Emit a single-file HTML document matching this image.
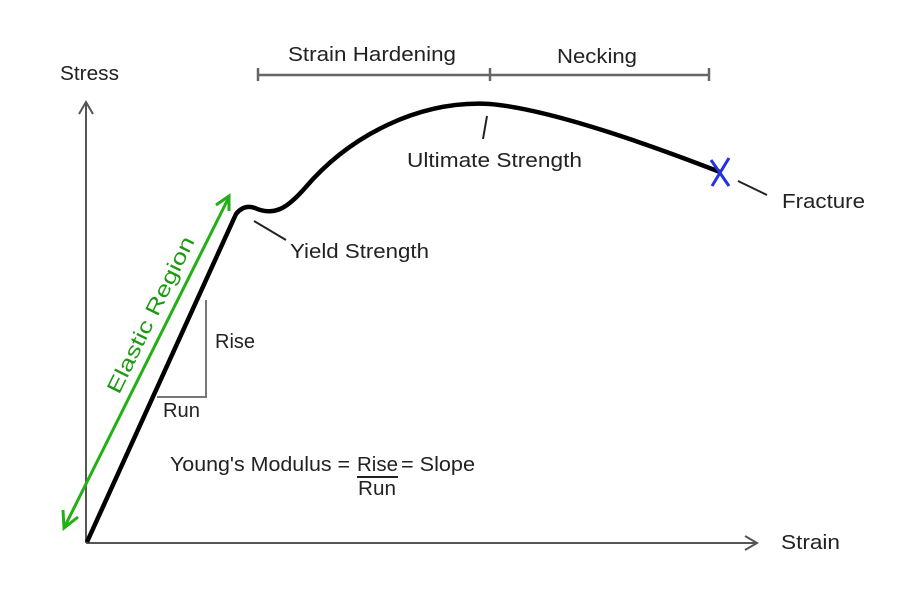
<!DOCTYPE html>
<html><head><meta charset="utf-8"><style>
body{margin:0;background:#fff;}
svg{display:block}
text{font-family:"Liberation Sans",sans-serif;font-size:20px;fill:#222;}
</style></head><body>
<svg width="900" height="600" viewBox="0 0 900 600">
<g stroke="#555" stroke-width="2" fill="none">
<line x1="86" y1="102" x2="86" y2="543"/>
<polyline points="79,114 86,102 93,114"/>
<line x1="86" y1="543" x2="757" y2="543"/>
<polyline points="745,536 757,543 745,550"/>
</g>
<g stroke="#666" stroke-width="2.5">
<line x1="258" y1="75" x2="709" y2="75"/>
<line x1="258" y1="68" x2="258" y2="81"/>
<line x1="490" y1="68" x2="490" y2="81"/>
<line x1="709" y1="68" x2="709" y2="81"/>
</g>
<g stroke="#777" stroke-width="2" fill="none">
<polyline points="157,397 206,397 206,300"/>
</g>
<path d="M87,542 L236,214 Q244,204 255,208 Q268,214 280,209 Q290,205 305,188 C350,135 420,100 490,104 Q560,110 720,172" stroke="#000" stroke-width="4.5" fill="none" stroke-linejoin="round"/>
<g stroke="#22b014" stroke-width="3" fill="none">
<line x1="65" y1="526" x2="229" y2="197"/>
<polyline points="216,205 229,196 229,211"/>
<polyline points="63,510 64,528 78,517"/>
</g>
<text x="0" y="0" transform="translate(157,318) rotate(-63.8)" text-anchor="middle" textLength="172" lengthAdjust="spacingAndGlyphs" style="fill:#1e9a12;font-size:21px">Elastic Region</text>
<g stroke="#222" stroke-width="2">
<line x1="254" y1="221" x2="286" y2="240"/>
<line x1="487" y1="116" x2="483" y2="139"/>
<line x1="738" y1="181" x2="767" y2="195"/>
</g>
<g stroke="#2233dd" stroke-width="3">
<line x1="711" y1="160" x2="729" y2="186"/>
<line x1="729" y1="158" x2="712" y2="186"/>
</g>
<g lengthAdjust="spacingAndGlyphs">
<text x="60" y="80" textLength="59" lengthAdjust="spacingAndGlyphs">Stress</text>
<text x="781" y="549" textLength="59" lengthAdjust="spacingAndGlyphs">Strain</text>
<text x="288" y="61" textLength="168" lengthAdjust="spacingAndGlyphs">Strain Hardening</text>
<text x="557" y="63" textLength="80" lengthAdjust="spacingAndGlyphs">Necking</text>
<text x="407" y="167" textLength="175" lengthAdjust="spacingAndGlyphs">Ultimate Strength</text>
<text x="782" y="208" textLength="83" lengthAdjust="spacingAndGlyphs">Fracture</text>
<text x="290" y="258" textLength="139" lengthAdjust="spacingAndGlyphs">Yield Strength</text>
<text x="215" y="348" textLength="40" lengthAdjust="spacingAndGlyphs">Rise</text>
<text x="163" y="417" textLength="37" lengthAdjust="spacingAndGlyphs">Run</text>
<text x="170" y="471" textLength="180" lengthAdjust="spacingAndGlyphs">Young's Modulus =</text>
<text x="357" y="471" textLength="41" lengthAdjust="spacingAndGlyphs">Rise</text>
<text x="401" y="471" textLength="74" lengthAdjust="spacingAndGlyphs">= Slope</text>
<text x="358" y="495" textLength="38" lengthAdjust="spacingAndGlyphs">Run</text>
</g>
<line x1="357" y1="477" x2="398" y2="477" stroke="#222" stroke-width="2"/>
</svg>
</body></html>
